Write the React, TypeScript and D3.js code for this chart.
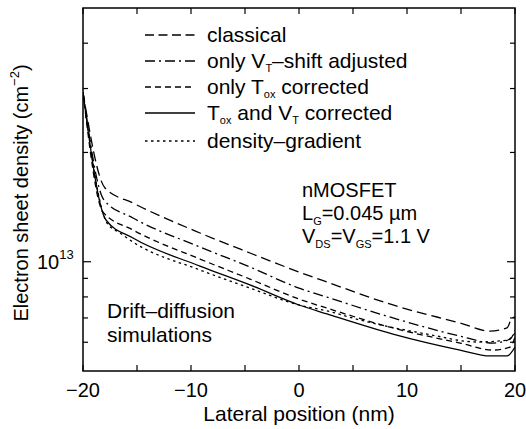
import React from "react";
import * as d3 from "d3";

const W = 526;
const H = 429;
const M = { left: 83, right: 11, top: 8, bottom: 58 };

const xDomain = [-20, 20];
const yDomain = [5e12, 5e13];
const xMajorTicks = [-20, -10, 0, 10, 20];
const xMinorTicks = [-15, -5, 5, 15];
const yMajorTicks = [1e13];
const yMinorTicks = [6e12, 7e12, 8e12, 9e12, 2e13, 3e13, 4e13];

// values in units of 1e13 cm^-2
const classicalX = [-20, -17.96, -15.37, -9.17, -4.54, 0, 2.59, 8.7, 14.91, 17.69, 19.26, 19.72, 20];
const classicalV = [2.93, 1.596, 1.451, 1.2, 1.057, 0.937, 0.879, 0.76, 0.678, 0.644, 0.657, 0.7, 0.704];

const vtX = [-20, -18.06, -15.37, -9.17, -4.54, 0, 2.59, 8.7, 14.91, 17.96, 19.54, 20];
const vtV = [2.93, 1.48, 1.32, 1.098, 0.967, 0.846, 0.799, 0.7, 0.624, 0.597, 0.612, 0.648];

const toxX = [-20, -18.15, -15.37, -9.17, -4.54, 0, 2.59, 8.7, 14.91, 17.96, 19.54, 20];
const toxV = [2.93, 1.37, 1.223, 1.017, 0.896, 0.789, 0.745, 0.657, 0.597, 0.571, 0.582, 0.62];

const bothX = [-20, -17.87, -15.37, -9.17, -4.54, 0, 2.59, 8.7, 14.91, 17.69, 19.26, 20];
const bothV = [2.93, 1.303, 1.162, 0.973, 0.863, 0.76, 0.718, 0.632, 0.571, 0.55, 0.55, 0.582];

const dgX = [-20, -17.78, -16.57, -15.37, -9.17, -4.54, 0, 2.59, 5.65, 11.85, 16.48, 19.26, 20];
const dgV = [2.93, 1.278, 1.2, 1.133, 0.949, 0.846, 0.76, 0.732, 0.691, 0.632, 0.601, 0.608, 0.636];

const UNIT = 1e13;

const series = [
  { key: "classical", xs: classicalX, vs: classicalV, dash: "10,5" },
  { key: "vt", xs: vtX, vs: vtV, dash: "10,4,2,4" },
  { key: "tox", xs: toxX, vs: toxV, dash: "6,4" },
  { key: "both", xs: bothX, vs: bothV, dash: "" },
  { key: "dg", xs: dgX, vs: dgV, dash: "2.5,3.5" },
];

const FONT = "'Liberation Sans', Arial, Helvetica, sans-serif";

export default function App() {
  const x = d3.scaleLinear().domain(xDomain).range([M.left, W - M.right]);
  const y = d3.scaleLog().domain(yDomain).range([H - M.bottom, M.top]);
  const line = d3
    .line<[number, number]>()
    .x((d) => x(d[0]))
    .y((d) => y(d[1] * UNIT))
    .curve(d3.curveMonotoneX);

  const x0 = M.left;
  const x1 = W - M.right;
  const y0 = M.top;
  const y1 = H - M.bottom;

  const legendRows = [
    { dash: "9,4.5", y: 35 },
    { dash: "10,4,2,4", y: 61 },
    { dash: "6,4", y: 87 },
    { dash: "", y: 113 },
    { dash: "2.5,3.5", y: 141 },
  ];

  const fs = 20;
  const fl = 21;
  const sub = 11;

  return (
    <svg
      width={W}
      height={H}
      style={{ position: "absolute", left: 0, top: 0, background: "#fff" }}
      fontFamily={FONT}
    >
      <defs>
        <clipPath id="clip">
          <rect x={x0} y={y0} width={x1 - x0} height={y1 - y0} />
        </clipPath>
      </defs>
      <rect x={0} y={0} width={W} height={H} fill="#fff" />
      <g clipPath="url(#clip)">
        {series.map((s) => (
          <path
            key={s.key}
            d={line(s.xs.map((v, i) => [v, s.vs[i]] as [number, number])) || ""}
            fill="none"
            stroke="#000"
            strokeWidth={1.3}
            strokeDasharray={s.dash || undefined}
          />
        ))}
      </g>
      <rect x={x0} y={y0} width={x1 - x0} height={y1 - y0} fill="none" stroke="#000" strokeWidth={1.5} />
      {[...xMajorTicks, ...xMinorTicks].map((t) => (
        <g key={"xt" + t}>
          <line x1={x(t)} x2={x(t)} y1={y1} y2={y1 - 6} stroke="#000" strokeWidth={1.2} />
          <line x1={x(t)} x2={x(t)} y1={y0} y2={y0 + 6} stroke="#000" strokeWidth={1.2} />
        </g>
      ))}
      {xMajorTicks.map((t) => (
        <text key={"xl" + t} x={x(t)} y={397} fontSize={fs} textAnchor="middle">
          {t < 0 ? "\u2212" + Math.abs(t) : String(t)}
        </text>
      ))}
      {yMajorTicks.map((t) => (
        <g key={"ytM" + t}>
          <line x1={x0} x2={x0 + 8} y1={y(t)} y2={y(t)} stroke="#000" strokeWidth={1.2} />
          <line x1={x1} x2={x1 - 8} y1={y(t)} y2={y(t)} stroke="#000" strokeWidth={1.2} />
        </g>
      ))}
      {yMinorTicks.map((t) => (
        <g key={"ytm" + t}>
          <line x1={x0} x2={x0 + 5} y1={y(t)} y2={y(t)} stroke="#000" strokeWidth={1.2} />
          <line x1={x1} x2={x1 - 5} y1={y(t)} y2={y(t)} stroke="#000" strokeWidth={1.2} />
        </g>
      ))}
      <text x={37} y={y(1e13) + 7} fontSize={fs}>
        10
        <tspan dy={-10} fontSize={13}>13</tspan>
      </text>
      <text x={299} y={421} fontSize={fl} textAnchor="middle">
        Lateral position (nm)
      </text>
      <text transform={`translate(28,${193}) rotate(-90)`} fontSize={fs} textAnchor="middle">
        Electron sheet density (cm
        <tspan dy={-9} fontSize={13}>{"\u22122"}</tspan>
        <tspan dy={9}>)</tspan>
      </text>
      {legendRows.map((r, i) => (
        <line
          key={"lg" + i}
          x1={145}
          x2={195}
          y1={r.y}
          y2={r.y}
          stroke="#000"
          strokeWidth={1.3}
          strokeDasharray={r.dash || undefined}
        />
      ))}
      <text x={207} y={42} fontSize={fl}>classical</text>
      <text x={207} y={68} fontSize={fl}>
        only V<tspan dy={4} fontSize={sub}>T</tspan>
        <tspan dy={-4}>{"\u2013shift adjusted"}</tspan>
      </text>
      <text x={207} y={94} fontSize={fl}>
        only T<tspan dy={4} fontSize={sub}>ox</tspan>
        <tspan dy={-4}> corrected</tspan>
      </text>
      <text x={207} y={120} fontSize={fl}>
        T<tspan dy={4} fontSize={sub}>ox</tspan>
        <tspan dy={-4}> and V</tspan>
        <tspan dy={4} fontSize={sub}>T</tspan>
        <tspan dy={-4}> corrected</tspan>
      </text>
      <text x={207} y={148} fontSize={fl}>{"density\u2013gradient"}</text>
      <text x={302} y={197} fontSize={fs}>nMOSFET</text>
      <text x={302} y={220} fontSize={fs}>
        L<tspan dy={5} fontSize={sub}>G</tspan>
        <tspan dy={-5}>{"=0.045 \u00b5m"}</tspan>
      </text>
      <text x={302} y={243} fontSize={fs}>
        V<tspan dy={5} fontSize={sub}>DS</tspan>
        <tspan dy={-5}>=V</tspan>
        <tspan dy={5} fontSize={sub}>GS</tspan>
        <tspan dy={-5}>=1.1 V</tspan>
      </text>
      <text x={107} y={318} fontSize={fl}>{"Drift\u2013diffusion"}</text>
      <text x={107} y={342} fontSize={fl}>simulations</text>
    </svg>
  );
}
